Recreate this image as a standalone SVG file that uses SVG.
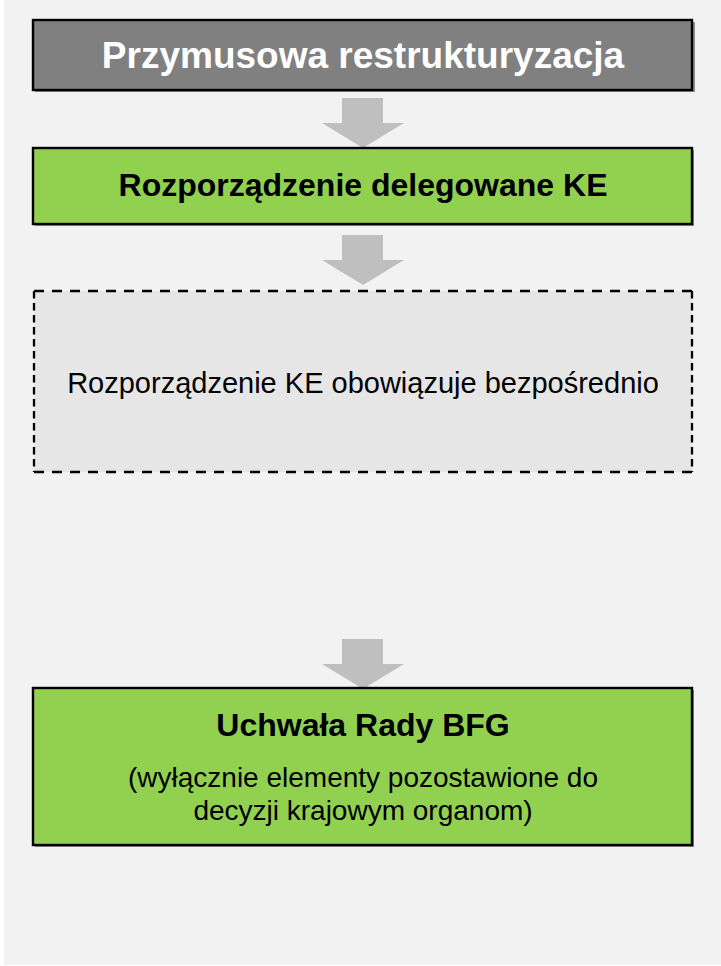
<svg xmlns="http://www.w3.org/2000/svg" width="721" height="966" viewBox="0 0 721 966">
<defs>
<style>
.panel{fill:#f2f2f2}
.box{stroke:#000;stroke-width:2.4}
.shadow{fill:#8c8c8c}
.gray{fill:#808080}
.green{fill:#92d050}
.arrow{fill:#bfbfbf}
.t{font-family:"Liberation Sans",Arial,sans-serif;text-anchor:middle}
.b{font-weight:bold}
.dash{fill:none;stroke:#000;stroke-width:2.3}
</style>
</defs>
<rect x="0" y="0" width="721" height="966" fill="#ffffff"/>
<rect class="panel" x="4" y="0" width="717" height="965"/>

<g id="connectors">
<polygon class="arrow" points="342,98 383,98 383,123 404,123 363,148 322,123 342,123"/>
<polygon class="arrow" points="342,235 383,235 383,260 404,260 363,285 322,260 342,260"/>
<polygon class="arrow" points="342,639 383,639 383,664 404,664 363,689 322,664 342,664"/>
</g>

<g id="node-przymusowa">
<rect class="shadow" x="35" y="22" width="660" height="70"/>
<rect class="box gray" x="33" y="20" width="659" height="70"/>
<text class="t b" x="363" y="68" font-size="37" fill="#ffffff">Przymusowa restrukturyzacja</text>
</g>

<g id="node-rozporzadzenie-delegowane">
<rect class="shadow" x="35" y="150" width="659" height="76"/>
<rect class="box green" x="33" y="148" width="659" height="76"/>
<text class="t b" x="363" y="196" font-size="32" fill="#000">Rozporządzenie delegowane KE</text>
</g>

<g id="node-rozporzadzenie-ke">
<rect x="34" y="291" width="658" height="181" fill="#e6e6e6"/>
<path class="dash" d="M34,291 H692 M34,472 H692" stroke-dasharray="10 8"/>
<path class="dash" d="M34,291 V472 M692,291 V472" stroke-dasharray="7.5 4.5"/>
<text class="t" x="363" y="393" font-size="29" fill="#000">Rozporządzenie KE obowiązuje bezpośrednio</text>
</g>

<g id="node-uchwala">
<rect class="shadow" x="35" y="690" width="659" height="157"/>
<rect class="box green" x="33" y="688" width="659" height="157"/>
<text class="t b" x="363" y="736" font-size="32" fill="#000">Uchwała Rady BFG</text>
<text class="t" x="363" y="787" font-size="28" fill="#000">(wyłącznie elementy pozostawione do</text>
<text class="t" x="363" y="820" font-size="28" fill="#000">decyzji krajowym organom)</text>
</g>
</svg>
